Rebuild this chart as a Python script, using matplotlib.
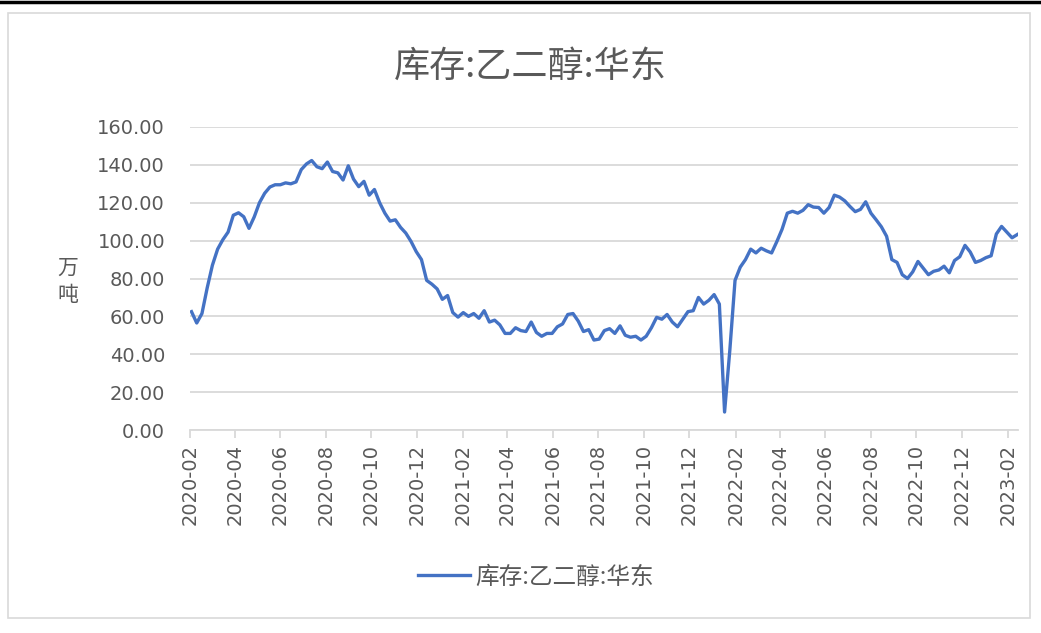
import matplotlib
matplotlib.use("Agg")
import matplotlib.pyplot as plt
import matplotlib.dates as mdates
from matplotlib.patches import Rectangle
from matplotlib.lines import Line2D
import pandas as pd

plt.rcParams["font.family"] = ["Noto Sans CJK SC", "DejaVu Sans"]

TITLE = "库存:乙二醇:华东"
UNIT = "万\n吨"

# weekly observations, first one on 2020-02-03
start_date = "2020-02-03"
inventory = [
    62.5, 56.5, 61.5, 75.0, 87.0, 95.5, 100.5, 104.5, 113.4, 114.7,
    112.6, 106.5, 112.5, 120.0, 125.0, 128.3, 129.5, 129.5, 130.5, 130.0,
    131.0, 137.5, 140.5, 142.3, 139.0, 138.0, 141.5, 136.5, 135.8, 132.0,
    139.5, 132.5, 128.5, 131.3, 124.0, 127.0, 120.0, 114.5, 110.3, 111.0,
    107.0, 104.0, 99.6, 94.2, 90.0, 79.0, 77.0, 74.5, 69.0, 71.0,
    62.0, 59.6, 62.0, 60.0, 61.5, 59.0, 63.0, 57.0, 58.0, 55.5,
    51.0, 51.0, 54.0, 52.5, 52.0, 57.0, 51.5, 49.5, 51.0, 51.0,
    54.5, 56.0, 61.0, 61.5, 57.5, 52.0, 53.0, 47.5, 48.0, 52.5,
    53.5, 51.0, 55.0, 50.0, 49.0, 49.5, 47.5, 49.5, 54.0, 59.5,
    58.5, 61.0, 57.0, 54.5, 58.5, 62.5, 63.0, 70.0, 66.5, 68.5,
    71.5, 66.5, 9.5, 42.0, 79.0, 86.0, 90.0, 95.5, 93.5, 96.0,
    94.6, 93.5, 99.5, 106.0, 114.5, 115.5, 114.5, 116.0, 119.0, 117.7,
    117.5, 114.5, 117.5, 124.0, 123.0, 121.0, 118.0, 115.3, 116.5, 120.5,
    114.5, 111.0, 107.3, 102.3, 90.0, 88.5, 82.0, 80.0, 83.5, 89.0,
    85.5, 82.0, 83.8, 84.5, 86.5, 83.0, 89.5, 91.5, 97.5, 94.0,
    88.5, 89.5, 91.0, 92.0, 103.5, 107.5, 104.5, 101.5, 103.2,
]
dates = pd.date_range(start=start_date, periods=len(inventory), freq="7D")

y_ticks = [0, 20, 40, 60, 80, 100, 120, 140, 160]

LINE = "#4472C4"
TEXT = "#595959"
GRID = "#D9D9D9"

W, H = 1041, 633
fig = plt.figure(figsize=(W / 100, H / 100), dpi=100)

# chart frame and top rule
fig.patches.append(Rectangle((8 / W, 1 - 618 / H), (1030 - 8) / W, (618 - 13) / H,
                             transform=fig.transFigure, fill=False,
                             edgecolor=GRID, linewidth=1.2))
fig.add_artist(Line2D([0, 1], [1 - 2 / H, 1 - 2 / H], transform=fig.transFigure,
                      color="black", linewidth=2.5))

ax = fig.add_axes([190 / W, 1 - 430 / H, (1018 - 190) / W, (430 - 127) / H])
ax.plot(dates, inventory, color=LINE, linewidth=2.4, solid_joinstyle="round",
        label=TITLE)

ax.set_ylim(0, 160)
ax.set_yticks(y_ticks)
ax.set_yticklabels([f"{v:.2f}" for v in y_ticks], family="DejaVu Sans")
ax.set_xlim(pd.Timestamp("2020-02-01"), pd.Timestamp("2023-02-14"))
ax.xaxis.set_major_locator(mdates.MonthLocator(bymonth=[2, 4, 6, 8, 10, 12]))
ax.xaxis.set_major_formatter(mdates.DateFormatter("%Y-%m"))
for lbl in ax.get_xticklabels():
    lbl.set_family("DejaVu Sans")

ax.grid(axis="y", color=GRID, linewidth=1.3)
ax.set_axisbelow(True)
for side in ("top", "right", "left"):
    ax.spines[side].set_visible(False)
ax.spines["bottom"].set_color(GRID)
ax.spines["bottom"].set_linewidth(1.3)

ax.tick_params(axis="y", length=0, pad=18, labelsize=14, labelcolor=TEXT)
ax.tick_params(axis="x", length=6, width=1.3, color=GRID, pad=4,
               labelsize=14, labelcolor=TEXT, labelrotation=90)

fig.text(530 / W, 1 - 67 / H, TITLE, ha="center", va="center",
         fontsize=26, color=TEXT, fontweight="light")
fig.text(68 / W, 1 - 281 / H, UNIT, ha="center", va="center",
         fontsize=15, color=TEXT, linespacing=1.3)

fig.legend(loc="center", bbox_to_anchor=(536 / W, 1 - 577 / H), frameon=False,
           fontsize=17, labelcolor=TEXT, handlelength=2.2, handletextpad=0.2)

fig.savefig("out.png", dpi=100)
